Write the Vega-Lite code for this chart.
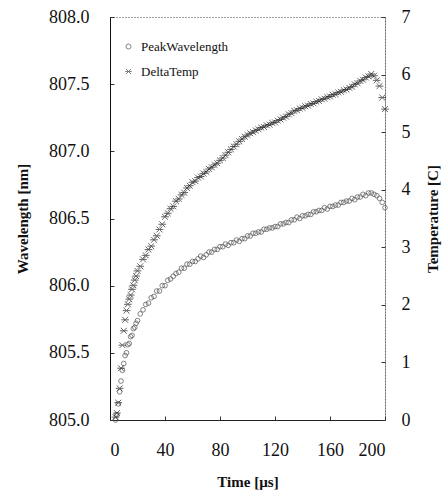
{
  "$schema": "https://vega.github.io/schema/vega-lite/v6.json",
  "width": 275,
  "height": 403,
  "autosize": "none",
  "padding": {"left": 110, "top": 17, "right": 59, "bottom": 78},
  "background": "white",
  "config": {
    "font": "Liberation Serif",
    "view": {"stroke": "#444", "strokeDash": [1, 2], "strokeWidth": 1},
    "axis": {
      "grid": false,
      "labelFont": "Liberation Serif",
      "labelFontSize": 18,
      "labelColor": "#111",
      "labelOverlap": false,
      "titleFont": "Liberation Serif",
      "titleFontSize": 15,
      "titleFontWeight": "bold",
      "titleColor": "#111",
      "tickColor": "#333",
      "tickSize": -4,
      "domainColor": "#111"
    }
  },
  "data": {
    "values": [
      {"t": 4, "PeakWavelength": 805.0, "DeltaTemp": 0.05},
      {"t": 5, "PeakWavelength": 805.04, "DeltaTemp": 0.12},
      {"t": 6, "PeakWavelength": 805.12, "DeltaTemp": 0.3},
      {"t": 7, "PeakWavelength": 805.21, "DeltaTemp": 0.55},
      {"t": 8, "PeakWavelength": 805.29, "DeltaTemp": 0.9},
      {"t": 9, "PeakWavelength": 805.37, "DeltaTemp": 1.3},
      {"t": 10, "PeakWavelength": 805.42, "DeltaTemp": 1.55},
      {"t": 11, "PeakWavelength": 805.48, "DeltaTemp": 1.74},
      {"t": 12, "PeakWavelength": 805.5, "DeltaTemp": 1.9},
      {"t": 13, "PeakWavelength": 805.56, "DeltaTemp": 2.01},
      {"t": 14, "PeakWavelength": 805.57, "DeltaTemp": 2.1},
      {"t": 15, "PeakWavelength": 805.62, "DeltaTemp": 2.17},
      {"t": 16, "PeakWavelength": 805.63, "DeltaTemp": 2.27},
      {"t": 17, "PeakWavelength": 805.68, "DeltaTemp": 2.34},
      {"t": 18, "PeakWavelength": 805.69, "DeltaTemp": 2.43},
      {"t": 19, "PeakWavelength": 805.72, "DeltaTemp": 2.5},
      {"t": 20, "PeakWavelength": 805.74, "DeltaTemp": 2.59},
      {"t": 22, "PeakWavelength": 805.79, "DeltaTemp": 2.67},
      {"t": 24, "PeakWavelength": 805.82, "DeltaTemp": 2.79},
      {"t": 26, "PeakWavelength": 805.86, "DeltaTemp": 2.86},
      {"t": 28, "PeakWavelength": 805.87, "DeltaTemp": 2.96},
      {"t": 30, "PeakWavelength": 805.91, "DeltaTemp": 3.02},
      {"t": 32, "PeakWavelength": 805.92, "DeltaTemp": 3.13},
      {"t": 34, "PeakWavelength": 805.96, "DeltaTemp": 3.2},
      {"t": 36, "PeakWavelength": 805.96, "DeltaTemp": 3.31},
      {"t": 38, "PeakWavelength": 806.0, "DeltaTemp": 3.4},
      {"t": 40, "PeakWavelength": 806.0, "DeltaTemp": 3.53},
      {"t": 42, "PeakWavelength": 806.04, "DeltaTemp": 3.59},
      {"t": 44, "PeakWavelength": 806.05, "DeltaTemp": 3.67},
      {"t": 46, "PeakWavelength": 806.07, "DeltaTemp": 3.71},
      {"t": 48, "PeakWavelength": 806.09, "DeltaTemp": 3.8},
      {"t": 50, "PeakWavelength": 806.1, "DeltaTemp": 3.84},
      {"t": 52, "PeakWavelength": 806.13, "DeltaTemp": 3.91},
      {"t": 54, "PeakWavelength": 806.13, "DeltaTemp": 3.95},
      {"t": 56, "PeakWavelength": 806.16, "DeltaTemp": 4.03},
      {"t": 58, "PeakWavelength": 806.16, "DeltaTemp": 4.07},
      {"t": 60, "PeakWavelength": 806.18, "DeltaTemp": 4.13},
      {"t": 62, "PeakWavelength": 806.18, "DeltaTemp": 4.15},
      {"t": 64, "PeakWavelength": 806.2, "DeltaTemp": 4.21},
      {"t": 66, "PeakWavelength": 806.22, "DeltaTemp": 4.23},
      {"t": 68, "PeakWavelength": 806.21, "DeltaTemp": 4.28},
      {"t": 70, "PeakWavelength": 806.23, "DeltaTemp": 4.31},
      {"t": 72, "PeakWavelength": 806.25, "DeltaTemp": 4.36},
      {"t": 74, "PeakWavelength": 806.25, "DeltaTemp": 4.39},
      {"t": 76, "PeakWavelength": 806.27, "DeltaTemp": 4.43},
      {"t": 78, "PeakWavelength": 806.27, "DeltaTemp": 4.46},
      {"t": 80, "PeakWavelength": 806.29, "DeltaTemp": 4.51},
      {"t": 82, "PeakWavelength": 806.29, "DeltaTemp": 4.55},
      {"t": 84, "PeakWavelength": 806.31, "DeltaTemp": 4.6},
      {"t": 86, "PeakWavelength": 806.3, "DeltaTemp": 4.65},
      {"t": 88, "PeakWavelength": 806.32, "DeltaTemp": 4.7},
      {"t": 90, "PeakWavelength": 806.32, "DeltaTemp": 4.75},
      {"t": 92, "PeakWavelength": 806.34, "DeltaTemp": 4.79},
      {"t": 94, "PeakWavelength": 806.33, "DeltaTemp": 4.84},
      {"t": 96, "PeakWavelength": 806.35, "DeltaTemp": 4.88},
      {"t": 98, "PeakWavelength": 806.35, "DeltaTemp": 4.92},
      {"t": 100, "PeakWavelength": 806.37, "DeltaTemp": 4.95},
      {"t": 102, "PeakWavelength": 806.37, "DeltaTemp": 4.98},
      {"t": 104, "PeakWavelength": 806.39, "DeltaTemp": 5.0},
      {"t": 106, "PeakWavelength": 806.39, "DeltaTemp": 5.03},
      {"t": 108, "PeakWavelength": 806.4, "DeltaTemp": 5.05},
      {"t": 110, "PeakWavelength": 806.4, "DeltaTemp": 5.08},
      {"t": 112, "PeakWavelength": 806.42, "DeltaTemp": 5.09},
      {"t": 114, "PeakWavelength": 806.42, "DeltaTemp": 5.12},
      {"t": 116, "PeakWavelength": 806.43, "DeltaTemp": 5.13},
      {"t": 118, "PeakWavelength": 806.43, "DeltaTemp": 5.16},
      {"t": 120, "PeakWavelength": 806.44, "DeltaTemp": 5.17},
      {"t": 122, "PeakWavelength": 806.44, "DeltaTemp": 5.2},
      {"t": 124, "PeakWavelength": 806.46, "DeltaTemp": 5.22},
      {"t": 126, "PeakWavelength": 806.46, "DeltaTemp": 5.25},
      {"t": 128, "PeakWavelength": 806.47, "DeltaTemp": 5.27},
      {"t": 130, "PeakWavelength": 806.47, "DeltaTemp": 5.31},
      {"t": 132, "PeakWavelength": 806.49, "DeltaTemp": 5.33},
      {"t": 134, "PeakWavelength": 806.49, "DeltaTemp": 5.37},
      {"t": 136, "PeakWavelength": 806.51, "DeltaTemp": 5.38},
      {"t": 138, "PeakWavelength": 806.5, "DeltaTemp": 5.41},
      {"t": 140, "PeakWavelength": 806.52, "DeltaTemp": 5.42},
      {"t": 142, "PeakWavelength": 806.52, "DeltaTemp": 5.45},
      {"t": 144, "PeakWavelength": 806.53, "DeltaTemp": 5.46},
      {"t": 146, "PeakWavelength": 806.53, "DeltaTemp": 5.49},
      {"t": 148, "PeakWavelength": 806.55, "DeltaTemp": 5.5},
      {"t": 150, "PeakWavelength": 806.55, "DeltaTemp": 5.53},
      {"t": 152, "PeakWavelength": 806.56, "DeltaTemp": 5.54},
      {"t": 154, "PeakWavelength": 806.56, "DeltaTemp": 5.57},
      {"t": 156, "PeakWavelength": 806.58, "DeltaTemp": 5.58},
      {"t": 158, "PeakWavelength": 806.57, "DeltaTemp": 5.61},
      {"t": 160, "PeakWavelength": 806.59, "DeltaTemp": 5.62},
      {"t": 162, "PeakWavelength": 806.59, "DeltaTemp": 5.65},
      {"t": 164, "PeakWavelength": 806.6, "DeltaTemp": 5.66},
      {"t": 166, "PeakWavelength": 806.6, "DeltaTemp": 5.69},
      {"t": 168, "PeakWavelength": 806.62, "DeltaTemp": 5.7},
      {"t": 170, "PeakWavelength": 806.62, "DeltaTemp": 5.73},
      {"t": 172, "PeakWavelength": 806.63, "DeltaTemp": 5.74},
      {"t": 174, "PeakWavelength": 806.63, "DeltaTemp": 5.77},
      {"t": 176, "PeakWavelength": 806.65, "DeltaTemp": 5.79},
      {"t": 178, "PeakWavelength": 806.64, "DeltaTemp": 5.83},
      {"t": 180, "PeakWavelength": 806.66, "DeltaTemp": 5.85},
      {"t": 182, "PeakWavelength": 806.66, "DeltaTemp": 5.89},
      {"t": 184, "PeakWavelength": 806.68, "DeltaTemp": 5.91},
      {"t": 186, "PeakWavelength": 806.67, "DeltaTemp": 5.95},
      {"t": 188, "PeakWavelength": 806.69, "DeltaTemp": 5.97},
      {"t": 190, "PeakWavelength": 806.69, "DeltaTemp": 6.01},
      {"t": 192, "PeakWavelength": 806.68, "DeltaTemp": 5.98},
      {"t": 194, "PeakWavelength": 806.67, "DeltaTemp": 5.9},
      {"t": 196, "PeakWavelength": 806.65, "DeltaTemp": 5.8},
      {"t": 198, "PeakWavelength": 806.62, "DeltaTemp": 5.6},
      {"t": 200, "PeakWavelength": 806.58, "DeltaTemp": 5.4}
    ]
  },
  "encoding": {
    "x": {
      "field": "t",
      "type": "quantitative",
      "scale": {"domain": [0, 200], "nice": false},
      "axis": {
        "values": [0, 40, 80, 120, 160, 200],
        "title": "Time [µs]",
        "labelPadding": 25,
        "titlePadding": 15,
        "domainColor": "#222"
      }
    }
  },
  "layer": [
    {
      "mark": {"type": "point", "filled": false, "size": 22, "strokeWidth": 0.8, "color": "#555", "opacity": 0.9},
      "encoding": {
        "y": {
          "field": "PeakWavelength",
          "type": "quantitative",
          "scale": {"domain": [805, 808], "nice": false, "zero": false},
          "axis": {
            "orient": "left",
            "values": [805, 805.5, 806, 806.5, 807, 807.5, 808],
            "format": ".1f",
            "title": "Wavelength [nm]",
            "labelPadding": 25,
            "titlePadding": 18
          }
        },
        "shape": {
          "datum": "PeakWavelength",
          "type": "nominal",
          "scale": {
            "domain": ["PeakWavelength", "DeltaTemp"],
            "range": ["circle", "M-1,-1L1,1M-1,1L1,-1M-1.3,0L1.3,0"]
          },
          "legend": {
            "title": null,
            "orient": "none",
            "legendX": 12,
            "legendY": 23,
            "labelFont": "Liberation Serif",
            "labelFontSize": 13,
            "labelColor": "#111",
            "symbolSize": 25,
            "symbolStrokeColor": "#555",
            "symbolStrokeWidth": 0.8,
            "symbolFillColor": "transparent",
            "rowPadding": 11,
            "labelOffset": 6
          }
        }
      }
    },
    {
      "mark": {"type": "point", "filled": false, "size": 35, "strokeWidth": 1, "color": "#222"},
      "encoding": {
        "y": {
          "field": "DeltaTemp",
          "type": "quantitative",
          "scale": {"domain": [0, 7], "nice": false},
          "axis": {
            "orient": "right",
            "values": [0, 1, 2, 3, 4, 5, 6, 7],
            "title": "Temperature [C]",
            "titleAngle": 270,
            "labelPadding": 20,
            "titlePadding": 30,
            "domainDash": [1, 2],
            "domainColor": "#333"
          }
        },
        "shape": {"datum": "DeltaTemp", "type": "nominal"}
      }
    }
  ],
  "resolve": {"scale": {"y": "independent"}}
}
